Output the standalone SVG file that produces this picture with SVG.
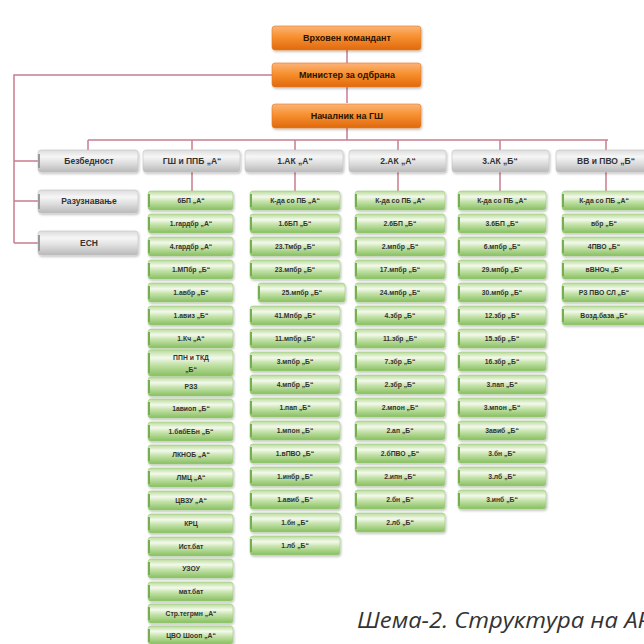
<svg xmlns="http://www.w3.org/2000/svg" width="644" height="644" viewBox="0 0 644 644">
<defs>
<linearGradient id="gOr" x1="0" y1="0" x2="0" y2="1">
<stop offset="0" stop-color="#fbb47a"/><stop offset="0.45" stop-color="#f7902f"/><stop offset="1" stop-color="#e0690e"/>
</linearGradient>
<linearGradient id="gGr" x1="0" y1="0" x2="0" y2="1">
<stop offset="0" stop-color="#b8da98"/><stop offset="0.3" stop-color="#f3f9ec"/><stop offset="0.55" stop-color="#c6e3ab"/><stop offset="1" stop-color="#86bf5e"/>
</linearGradient>
<linearGradient id="gGy" x1="0" y1="0" x2="0" y2="1">
<stop offset="0" stop-color="#dcdcdc"/><stop offset="0.3" stop-color="#f6f6f6"/><stop offset="0.6" stop-color="#dedede"/><stop offset="1" stop-color="#b9b9b9"/>
</linearGradient>
<filter id="sh" x="-10%" y="-20%" width="120%" height="150%">
<feDropShadow dx="1" dy="1.5" stdDeviation="1" flood-color="#000" flood-opacity="0.25"/>
</filter>
</defs>
<style>
.or{fill:url(#gOr);stroke:#e27a22;stroke-width:0.6;filter:url(#sh)}
.gr{fill:url(#gGr);stroke:#a0cc80;stroke-width:0.6;filter:url(#sh)}
.gy{fill:url(#gGy);stroke:#c4c4c4;stroke-width:0.6;filter:url(#sh)}
.tab{fill:#78ae52}
.tabg{fill:#9a9a9a}
.t{font-family:"Liberation Sans",Arial,sans-serif;font-weight:bold;fill:#333;text-anchor:middle;dominant-baseline:central}
.th{font-size:8.5px}
.tg{font-size:6.8px}
.ln{fill:none;stroke:#c87e8e;stroke-width:1.5}
.cap{font-family:"Open Sans","DejaVu Sans",sans-serif;font-style:italic;font-size:21.5px;fill:#333}
</style>
<rect width="644" height="644" fill="#fff"/>
<g id="connectors">
<path class="ln" d="M347 50V63M347 87V103M347 128V140M88 140H608M88 140V150M192 140V150M295 140V150M398 140V150M500 140V150M606 140V150"/>
<path class="ln" d="M272 75H14V243M14 161H38M14 201H38M14 243H38"/>
<path class="ln" d="M192 172V191M295 172V191M398 172V191M500 172V191M606 172V191"/>
</g>
<g id="n-vrhoven"><rect class="or" x="272" y="26" width="149" height="24" rx="3"/><text x="347" y="41" text-anchor="middle" font-family="Liberation Sans, Arial, sans-serif" font-weight="bold" font-size="9" fill="#2a1200">Врховен командант</text></g>
<g id="n-ministar"><rect class="or" x="272" y="63" width="149" height="24" rx="3"/><text x="347" y="78" text-anchor="middle" font-family="Liberation Sans, Arial, sans-serif" font-weight="bold" font-size="9" fill="#2a1200">Министер за одбрана</text></g>
<g id="n-nacalnik"><rect class="or" x="272" y="104" width="149" height="24" rx="3"/><text x="347" y="119" text-anchor="middle" font-family="Liberation Sans, Arial, sans-serif" font-weight="bold" font-size="9" fill="#2a1200">Началник на ГШ</text></g>

<g id="n-bezbednost"><rect class="gy" x="38" y="150" width="100" height="22" rx="3"/><rect class="tabg" x="38" y="154" width="2" height="14"/><text class="t th" x="89" y="161">Безбедност</text></g>
<g id="n-razuznavanje"><rect class="gy" x="38" y="190" width="100" height="23" rx="3"/><rect class="tabg" x="38" y="194" width="2" height="15"/><text class="t th" x="89" y="201">Разузнавање</text></g>
<g id="n-esn"><rect class="gy" x="38" y="231" width="100" height="24" rx="3"/><rect class="tabg" x="38" y="235" width="2" height="16"/><text class="t th" x="89" y="243">ЕСН</text></g>

<g id="h-gs"><rect class="gy" x="143" y="150" width="97" height="22" rx="3"/><text class="t th" x="192" y="161">ГШ и ППБ „А“</text></g>
<g id="h-1ak"><rect class="gy" x="245" y="150" width="98" height="22" rx="3"/><text class="t th" x="295" y="161">1.АК „А“</text></g>
<g id="h-2ak"><rect class="gy" x="349" y="150" width="97" height="22" rx="3"/><text class="t th" x="398" y="161">2.АК „А“</text></g>
<g id="h-3ak"><rect class="gy" x="452" y="150" width="97" height="22" rx="3"/><text class="t th" x="500" y="161">3.АК „Б“</text></g>
<g id="h-vv"><rect class="gy" x="556" y="150" width="100" height="22" rx="3"/><text class="t th" x="606" y="161">ВВ и ПВО „Б“</text></g>

<!-- GS column -->
<g id="gs1"><rect class="gr" x="148" y="191" width="85" height="19" rx="3"/><rect class="tab" x="148" y="194" width="2" height="13"/><text class="t tg" x="191" y="200.5">6БП „А“</text></g>
<g id="gs2"><rect class="gr" x="148" y="214" width="85" height="19" rx="3"/><rect class="tab" x="148" y="217" width="2" height="13"/><text class="t tg" x="191" y="223.5">1.гардбр „А“</text></g>
<g id="gs3"><rect class="gr" x="148" y="237" width="85" height="19" rx="3"/><rect class="tab" x="148" y="240" width="2" height="13"/><text class="t tg" x="191" y="246.5">4.гардбр „А“</text></g>
<g id="gs4"><rect class="gr" x="148" y="260" width="85" height="19" rx="3"/><rect class="tab" x="148" y="263" width="2" height="13"/><text class="t tg" x="191" y="269.5">1.МПбр „Б“</text></g>
<g id="gs5"><rect class="gr" x="148" y="283" width="85" height="19" rx="3"/><rect class="tab" x="148" y="286" width="2" height="13"/><text class="t tg" x="191" y="292.5">1.авбр „Б“</text></g>
<g id="gs6"><rect class="gr" x="148" y="306" width="85" height="19" rx="3"/><rect class="tab" x="148" y="309" width="2" height="13"/><text class="t tg" x="191" y="315.5">1.авиз „Б“</text></g>
<g id="gs7"><rect class="gr" x="148" y="329" width="85" height="19" rx="3"/><rect class="tab" x="148" y="332" width="2" height="13"/><text class="t tg" x="191" y="338.5">1.Кч „А“</text></g>
<g id="gs8"><rect class="gr" x="148" y="350" width="85" height="26" rx="3"/><rect class="tab" x="148" y="353" width="2" height="20"/><text class="t tg" x="191" y="357">ППН и ТКД</text><text class="t tg" x="191" y="369">„Б“</text></g>
<g id="gs9"><rect class="gr" x="148" y="377" width="85" height="19" rx="3"/><rect class="tab" x="148" y="380" width="2" height="13"/><text class="t tg" x="191" y="386.5">РЗЗ</text></g>
<g id="gs10"><rect class="gr" x="148" y="399" width="85" height="19" rx="3"/><rect class="tab" x="148" y="402" width="2" height="13"/><text class="t tg" x="191" y="408.5">1авиоп „Б“</text></g>
<g id="gs11"><rect class="gr" x="148" y="422" width="85" height="19" rx="3"/><rect class="tab" x="148" y="425" width="2" height="13"/><text class="t tg" x="191" y="431.5">1.бабЕБн „Б“</text></g>
<g id="gs12"><rect class="gr" x="148" y="445" width="85" height="19" rx="3"/><rect class="tab" x="148" y="448" width="2" height="13"/><text class="t tg" x="191" y="454.5">ЛКНОБ „А“</text></g>
<g id="gs13"><rect class="gr" x="148" y="468" width="85" height="19" rx="3"/><rect class="tab" x="148" y="471" width="2" height="13"/><text class="t tg" x="191" y="477.5">ЛМЦ „А“</text></g>
<g id="gs14"><rect class="gr" x="148" y="491" width="85" height="19" rx="3"/><rect class="tab" x="148" y="494" width="2" height="13"/><text class="t tg" x="191" y="500.5">ЦВЗУ „А“</text></g>
<g id="gs15"><rect class="gr" x="148" y="514" width="85" height="19" rx="3"/><rect class="tab" x="148" y="517" width="2" height="13"/><text class="t tg" x="191" y="523.5">КРЦ</text></g>
<g id="gs16"><rect class="gr" x="148" y="537" width="85" height="19" rx="3"/><rect class="tab" x="148" y="540" width="2" height="13"/><text class="t tg" x="191" y="546.5">Ист.бат</text></g>
<g id="gs17"><rect class="gr" x="148" y="559" width="85" height="19" rx="3"/><rect class="tab" x="148" y="562" width="2" height="13"/><text class="t tg" x="191" y="568.5">УЗОУ</text></g>
<g id="gs18"><rect class="gr" x="148" y="582" width="85" height="19" rx="3"/><rect class="tab" x="148" y="585" width="2" height="13"/><text class="t tg" x="191" y="591.5">мат.бат</text></g>
<g id="gs19"><rect class="gr" x="148" y="604" width="85" height="19" rx="3"/><rect class="tab" x="148" y="607" width="2" height="13"/><text class="t tg" x="191" y="613.5">Стр.тегрмн „А“</text></g>
<g id="gs20"><rect class="gr" x="148" y="626" width="85" height="18" rx="3"/><rect class="tab" x="148" y="629" width="2" height="13"/><text class="t tg" x="191" y="635.5">ЦВО Шооп „А“</text></g>

<!-- 1.AK column -->
<g id="a1-1"><rect class="gr" x="250" y="191" width="90" height="19" rx="3"/><rect class="tab" x="250" y="194" width="2" height="13"/><text class="t tg" x="295" y="200.5">К-да со ПБ „А“</text></g>
<g id="a1-2"><rect class="gr" x="250" y="214" width="90" height="19" rx="3"/><rect class="tab" x="250" y="217" width="2" height="13"/><text class="t tg" x="295" y="223.5">1.6БП „Б“</text></g>
<g id="a1-3"><rect class="gr" x="250" y="237" width="90" height="19" rx="3"/><rect class="tab" x="250" y="240" width="2" height="13"/><text class="t tg" x="295" y="246.5">23.Тмбр „Б“</text></g>
<g id="a1-4"><rect class="gr" x="250" y="260" width="90" height="19" rx="3"/><rect class="tab" x="250" y="263" width="2" height="13"/><text class="t tg" x="295" y="269.5">23.мпбр „Б“</text></g>
<g id="a1-5"><rect class="gr" x="258" y="283" width="87" height="19" rx="3"/><rect class="tab" x="258" y="286" width="2" height="13"/><text class="t tg" x="302" y="292.5">25.мпбр „Б“</text></g>
<g id="a1-6"><rect class="gr" x="250" y="306" width="90" height="19" rx="3"/><rect class="tab" x="250" y="309" width="2" height="13"/><text class="t tg" x="295" y="315.5">41.Мпбр „Б“</text></g>
<g id="a1-7"><rect class="gr" x="250" y="329" width="90" height="19" rx="3"/><rect class="tab" x="250" y="332" width="2" height="13"/><text class="t tg" x="295" y="338.5">11.мпбр „Б“</text></g>
<g id="a1-8"><rect class="gr" x="250" y="352" width="90" height="19" rx="3"/><rect class="tab" x="250" y="355" width="2" height="13"/><text class="t tg" x="295" y="361.5">3.мпбр „Б“</text></g>
<g id="a1-9"><rect class="gr" x="250" y="375" width="90" height="19" rx="3"/><rect class="tab" x="250" y="378" width="2" height="13"/><text class="t tg" x="295" y="384.5">4.мпбр „Б“</text></g>
<g id="a1-10"><rect class="gr" x="250" y="398" width="90" height="19" rx="3"/><rect class="tab" x="250" y="401" width="2" height="13"/><text class="t tg" x="295" y="407.5">1.пап „Б“</text></g>
<g id="a1-11"><rect class="gr" x="250" y="421" width="90" height="19" rx="3"/><rect class="tab" x="250" y="424" width="2" height="13"/><text class="t tg" x="295" y="430.5">1.мпон „Б“</text></g>
<g id="a1-12"><rect class="gr" x="250" y="444" width="90" height="19" rx="3"/><rect class="tab" x="250" y="447" width="2" height="13"/><text class="t tg" x="295" y="453.5">1.вПВО „Б“</text></g>
<g id="a1-13"><rect class="gr" x="250" y="467" width="90" height="19" rx="3"/><rect class="tab" x="250" y="470" width="2" height="13"/><text class="t tg" x="295" y="476.5">1.инбр „Б“</text></g>
<g id="a1-14"><rect class="gr" x="250" y="490" width="90" height="19" rx="3"/><rect class="tab" x="250" y="493" width="2" height="13"/><text class="t tg" x="295" y="499.5">1.авиб „Б“</text></g>
<g id="a1-15"><rect class="gr" x="250" y="513" width="90" height="19" rx="3"/><rect class="tab" x="250" y="516" width="2" height="13"/><text class="t tg" x="295" y="522.5">1.бн „Б“</text></g>
<g id="a1-16"><rect class="gr" x="250" y="536" width="90" height="19" rx="3"/><rect class="tab" x="250" y="539" width="2" height="13"/><text class="t tg" x="295" y="545.5">1.лб „Б“</text></g>

<!-- 2.AK column -->
<g id="a2-1"><rect class="gr" x="355" y="191" width="90" height="19" rx="3"/><rect class="tab" x="355" y="194" width="2" height="13"/><text class="t tg" x="400" y="200.5">К-да со ПБ „А“</text></g>
<g id="a2-2"><rect class="gr" x="355" y="214" width="90" height="19" rx="3"/><rect class="tab" x="355" y="217" width="2" height="13"/><text class="t tg" x="400" y="223.5">2.6БП „Б“</text></g>
<g id="a2-3"><rect class="gr" x="355" y="237" width="90" height="19" rx="3"/><rect class="tab" x="355" y="240" width="2" height="13"/><text class="t tg" x="400" y="246.5">2.мпбр „Б“</text></g>
<g id="a2-4"><rect class="gr" x="355" y="260" width="90" height="19" rx="3"/><rect class="tab" x="355" y="263" width="2" height="13"/><text class="t tg" x="400" y="269.5">17.мпбр „Б“</text></g>
<g id="a2-5"><rect class="gr" x="355" y="283" width="90" height="19" rx="3"/><rect class="tab" x="355" y="286" width="2" height="13"/><text class="t tg" x="400" y="292.5">24.мпбр „Б“</text></g>
<g id="a2-6"><rect class="gr" x="355" y="306" width="90" height="19" rx="3"/><rect class="tab" x="355" y="309" width="2" height="13"/><text class="t tg" x="400" y="315.5">4.збр „Б“</text></g>
<g id="a2-7"><rect class="gr" x="355" y="329" width="90" height="19" rx="3"/><rect class="tab" x="355" y="332" width="2" height="13"/><text class="t tg" x="400" y="338.5">11.збр „Б“</text></g>
<g id="a2-8"><rect class="gr" x="355" y="352" width="90" height="19" rx="3"/><rect class="tab" x="355" y="355" width="2" height="13"/><text class="t tg" x="400" y="361.5">7.збр „Б“</text></g>
<g id="a2-9"><rect class="gr" x="355" y="375" width="90" height="19" rx="3"/><rect class="tab" x="355" y="378" width="2" height="13"/><text class="t tg" x="400" y="384.5">2.збр „Б“</text></g>
<g id="a2-10"><rect class="gr" x="355" y="398" width="90" height="19" rx="3"/><rect class="tab" x="355" y="401" width="2" height="13"/><text class="t tg" x="400" y="407.5">2.мпон „Б“</text></g>
<g id="a2-11"><rect class="gr" x="355" y="421" width="90" height="19" rx="3"/><rect class="tab" x="355" y="424" width="2" height="13"/><text class="t tg" x="400" y="430.5">2.ап „Б“</text></g>
<g id="a2-12"><rect class="gr" x="355" y="444" width="90" height="19" rx="3"/><rect class="tab" x="355" y="447" width="2" height="13"/><text class="t tg" x="400" y="453.5">2.бПВО „Б“</text></g>
<g id="a2-13"><rect class="gr" x="355" y="467" width="90" height="19" rx="3"/><rect class="tab" x="355" y="470" width="2" height="13"/><text class="t tg" x="400" y="476.5">2.ипн „Б“</text></g>
<g id="a2-14"><rect class="gr" x="355" y="490" width="90" height="19" rx="3"/><rect class="tab" x="355" y="493" width="2" height="13"/><text class="t tg" x="400" y="499.5">2.бн „Б“</text></g>
<g id="a2-15"><rect class="gr" x="355" y="513" width="90" height="19" rx="3"/><rect class="tab" x="355" y="516" width="2" height="13"/><text class="t tg" x="400" y="522.5">2.лб „Б“</text></g>

<!-- 3.AK column -->
<g id="a3-1"><rect class="gr" x="458" y="191" width="88" height="19" rx="3"/><rect class="tab" x="458" y="194" width="2" height="13"/><text class="t tg" x="502" y="200.5">К-да со ПБ „А“</text></g>
<g id="a3-2"><rect class="gr" x="458" y="214" width="88" height="19" rx="3"/><rect class="tab" x="458" y="217" width="2" height="13"/><text class="t tg" x="502" y="223.5">3.6БП „Б“</text></g>
<g id="a3-3"><rect class="gr" x="458" y="237" width="88" height="19" rx="3"/><rect class="tab" x="458" y="240" width="2" height="13"/><text class="t tg" x="502" y="246.5">6.мпбр „Б“</text></g>
<g id="a3-4"><rect class="gr" x="458" y="260" width="88" height="19" rx="3"/><rect class="tab" x="458" y="263" width="2" height="13"/><text class="t tg" x="502" y="269.5">29.мпбр „Б“</text></g>
<g id="a3-5"><rect class="gr" x="458" y="283" width="88" height="19" rx="3"/><rect class="tab" x="458" y="286" width="2" height="13"/><text class="t tg" x="502" y="292.5">30.мпбр „Б“</text></g>
<g id="a3-6"><rect class="gr" x="458" y="306" width="88" height="19" rx="3"/><rect class="tab" x="458" y="309" width="2" height="13"/><text class="t tg" x="502" y="315.5">12.збр „Б“</text></g>
<g id="a3-7"><rect class="gr" x="458" y="329" width="88" height="19" rx="3"/><rect class="tab" x="458" y="332" width="2" height="13"/><text class="t tg" x="502" y="338.5">15.збр „Б“</text></g>
<g id="a3-8"><rect class="gr" x="458" y="352" width="88" height="19" rx="3"/><rect class="tab" x="458" y="355" width="2" height="13"/><text class="t tg" x="502" y="361.5">16.збр „Б“</text></g>
<g id="a3-9"><rect class="gr" x="458" y="375" width="88" height="19" rx="3"/><rect class="tab" x="458" y="378" width="2" height="13"/><text class="t tg" x="502" y="384.5">3.пап „Б“</text></g>
<g id="a3-10"><rect class="gr" x="458" y="398" width="88" height="19" rx="3"/><rect class="tab" x="458" y="401" width="2" height="13"/><text class="t tg" x="502" y="407.5">3.мпон „Б“</text></g>
<g id="a3-11"><rect class="gr" x="458" y="421" width="88" height="19" rx="3"/><rect class="tab" x="458" y="424" width="2" height="13"/><text class="t tg" x="502" y="430.5">3авиб „Б“</text></g>
<g id="a3-12"><rect class="gr" x="458" y="444" width="88" height="19" rx="3"/><rect class="tab" x="458" y="447" width="2" height="13"/><text class="t tg" x="502" y="453.5">3.бн „Б“</text></g>
<g id="a3-13"><rect class="gr" x="458" y="467" width="88" height="19" rx="3"/><rect class="tab" x="458" y="470" width="2" height="13"/><text class="t tg" x="502" y="476.5">3.лб „Б“</text></g>
<g id="a3-14"><rect class="gr" x="458" y="490" width="88" height="19" rx="3"/><rect class="tab" x="458" y="493" width="2" height="13"/><text class="t tg" x="502" y="499.5">3.инб „Б“</text></g>

<!-- VV column -->
<g id="vv-1"><rect class="gr" x="562" y="191" width="88" height="19" rx="3"/><rect class="tab" x="562" y="194" width="2" height="13"/><text class="t tg" x="604" y="200.5">К-да со ПБ „А“</text></g>
<g id="vv-2"><rect class="gr" x="562" y="214" width="88" height="19" rx="3"/><rect class="tab" x="562" y="217" width="2" height="13"/><text class="t tg" x="604" y="223.5">вбр „Б“</text></g>
<g id="vv-3"><rect class="gr" x="562" y="237" width="88" height="19" rx="3"/><rect class="tab" x="562" y="240" width="2" height="13"/><text class="t tg" x="604" y="246.5">4ПВО „Б“</text></g>
<g id="vv-4"><rect class="gr" x="562" y="260" width="88" height="19" rx="3"/><rect class="tab" x="562" y="263" width="2" height="13"/><text class="t tg" x="604" y="269.5">вВНОч „Б“</text></g>
<g id="vv-5"><rect class="gr" x="562" y="283" width="88" height="19" rx="3"/><rect class="tab" x="562" y="286" width="2" height="13"/><text class="t tg" x="604" y="292.5">РЗ ПВО СЛ „Б“</text></g>
<g id="vv-6"><rect class="gr" x="562" y="306" width="88" height="19" rx="3"/><rect class="tab" x="562" y="309" width="2" height="13"/><text class="t tg" x="604" y="315.5">Возд.база „Б“</text></g>

<text class="cap" x="357" y="628" textLength="294" lengthAdjust="spacingAndGlyphs">Шема-2. Структура на АР</text>
</svg>
